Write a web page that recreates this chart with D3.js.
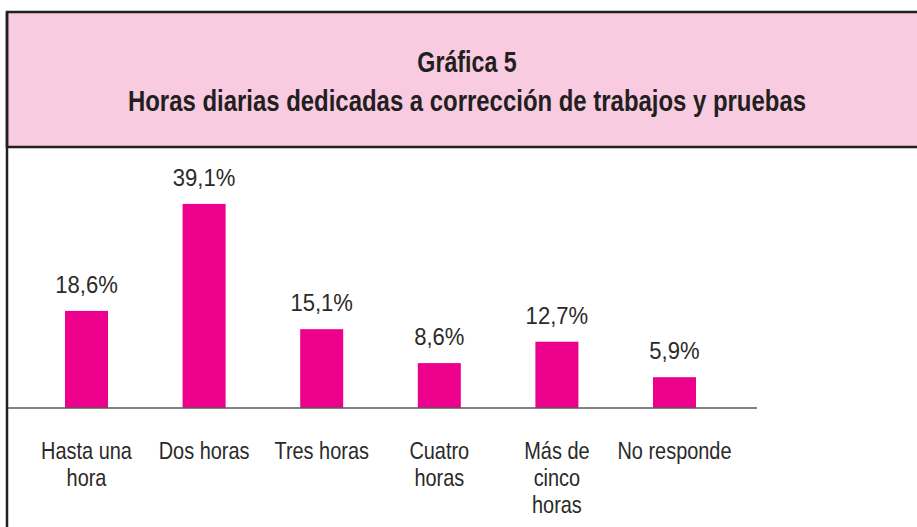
<!DOCTYPE html>
<html lang="es">
<head>
  <meta charset="UTF-8" />
  <title>Gráfica 5</title>
  <style>
    body {
      margin: 0;
      background-color: white;
    }
    svg {
      display: block;
    }
    .title {
      font-family: 'Liberation Sans', Arial, sans-serif;
      font-weight: bold;
      font-size: 29px;
      fill: #231f20;
      text-anchor: middle;
    }
    .label, .value {
      font-family: 'Liberation Sans', Arial, sans-serif;
      font-size: 24px;
      fill: #2b2a29;
      text-anchor: middle;
    }
  </style>
  <script src="https://d3js.org/d3.v7.min.js"></script>
</head>
<body>
  <div id="chart"></div>
  <script>
    const categories = ["Hasta una hora", "Dos horas", "Tres horas", "Cuatro horas", "Más de cinco horas", "No responde"];
    const categoryLines = [["Hasta una", "hora"], ["Dos horas"], ["Tres horas"], ["Cuatro", "horas"], ["Más de", "cinco", "horas"], ["No responde"]];
    const values = [18.6, 39.1, 15.1, 8.6, 12.7, 5.9];
    const titleLines = ["Gráfica 5", "Horas diarias dedicadas a corrección de trabajos y pruebas"];

    const width = 917;
    const height = 527;
    const barColor = "#ec008c";
    const headerColor = "#f8cbe0";
    const baselineY = 408;
    const barWidth = 43;

    const svg = d3.select("#chart")
      .append("svg")
      .attr("width", width)
      .attr("height", height);

    // header box
    svg.append("rect")
      .attr("x", 7)
      .attr("y", 12)
      .attr("width", width + 10)
      .attr("height", 135)
      .attr("fill", headerColor)
      .attr("stroke", "#231f20")
      .attr("stroke-width", 2.5);

    svg.append("line")
      .attr("x1", 7).attr("x2", 7)
      .attr("y1", 12).attr("y2", height + 5)
      .attr("stroke", "#231f20")
      .attr("stroke-width", 2.5);

    // the original type is a condensed face, so squeeze the text horizontally
    svg.selectAll("g.title")
      .data(titleLines)
      .enter().append("g")
      .attr("transform", (d, i) => `translate(467, ${72 + i * 39}) scale(${i === 0 ? 0.8 : 0.825}, 1)`)
      .append("text")
      .attr("class", "title")
      .text(d => d);

    const x = d3.scalePoint()
      .domain(categories)
      .range([86.5, 674.5]);

    const y = d3.scaleLinear()
      .domain([0, 40])
      .range([baselineY, baselineY - 40 * 5.22]);

    svg.append("g")
      .selectAll("rect")
      .data(values)
      .enter().append("rect")
      .attr("x", (d, i) => x(categories[i]) - barWidth / 2)
      .attr("y", d => y(d))
      .attr("width", barWidth)
      .attr("height", d => baselineY - y(d))
      .attr("fill", barColor);

    svg.append("g")
      .selectAll("g")
      .data(values)
      .enter().append("g")
      .attr("transform", (d, i) => `translate(${x(categories[i])}, ${y(d) - 18}) scale(0.92, 1)`)
      .append("text")
      .attr("class", "value")
      .text(d => d.toFixed(1).replace(".", ",") + "%");

    svg.append("line")
      .attr("x1", 8).attr("x2", 757)
      .attr("y1", baselineY).attr("y2", baselineY)
      .attr("stroke", "#58595b")
      .attr("stroke-width", 1.5);

    const labels = svg.append("g")
      .selectAll("g")
      .data(categories)
      .enter().append("g")
      .attr("transform", d => `translate(${x(d)}, 459) scale(0.83, 1)`)
      .append("text")
      .attr("class", "label");

    labels.selectAll("tspan")
      .data((d, i) => categoryLines[i])
      .enter().append("tspan")
      .attr("x", 0)
      .attr("dy", (d, i) => i === 0 ? 0 : 27)
      .text(d => d);
  </script>
</body>
</html>
